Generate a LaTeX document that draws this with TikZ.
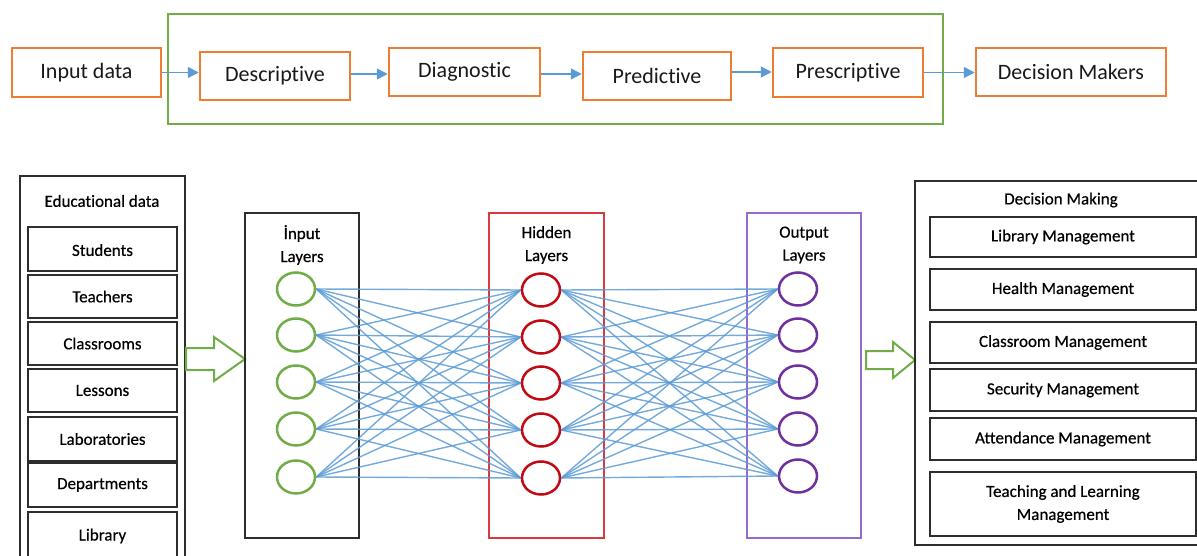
\documentclass[tikz,border=0pt]{standalone}
\usepackage{fontspec}
\setmainfont{Carlito}[Ligatures={NoCommon}]
\newfontfamily\lowfont{Carlito}[Ligatures={NoCommon},FakeBold=0.5]
\usetikzlibrary{arrows.meta,shapes.geometric}
\definecolor{orng}{RGB}{237,125,49}
\definecolor{grn}{RGB}{112,173,71}
\definecolor{lblue}{RGB}{91,155,213}
\definecolor{redbox}{RGB}{214,58,62}
\definecolor{redc}{RGB}{192,10,20}
\definecolor{purbox}{RGB}{150,105,205}
\definecolor{purc}{RGB}{112,48,160}
\definecolor{dk}{RGB}{45,45,45}
\begin{document}
\begin{tikzpicture}[x=1pt,y=-1pt,
  flowbox/.style={draw=orng, line width=2.5pt, inner sep=0pt, text=black!90, font=\fontsize{22}{26}\selectfont},
  flowarrow/.style={draw=lblue, line width=1.5pt, -{Triangle[length=11pt,width=11pt]}},
  groupbox/.style={draw=grn, line width=2pt, inner sep=0pt},
  cell/.style={draw=dk, line width=1.6pt, inner sep=0pt, font=\lowfont\fontsize{17}{23}\selectfont, align=center},
  lbl/.style={inner sep=0pt, font=\lowfont\fontsize{17}{23}\selectfont, align=center},
  layerbox/.style={line width=1.6pt, inner sep=0pt},
  neuron/.style={ellipse, line width=2.5pt, minimum width=38pt, minimum height=33pt, inner sep=0pt},
  conn/.style={draw=lblue, line width=1.4pt, opacity=0.85},
  hollow/.style={draw=grn, line width=2pt, fill=white, line join=miter}
]
\useasboundingbox (0,0) rectangle (1197,556);

% ---------- top flow ----------
\node[groupbox, minimum width=775pt, minimum height=110pt] (grp) at (555.5,69) {};
\node[flowbox, minimum width=149pt, minimum height=49pt] (in) at (86.5,72.5) {Input data};
\node[flowbox, minimum width=150pt, minimum height=48pt] (desc) at (275,76) {Descriptive};
\node[flowbox, minimum width=151pt, minimum height=48pt] (diag) at (464.5,72) {Diagnostic};
\node[flowbox, minimum width=148pt, minimum height=48pt] (pred) at (657,76) {Predictive};
\node[flowbox, minimum width=150pt, minimum height=49pt] (presc) at (848,72.5) {Prescriptive};
\node[flowbox, minimum width=190pt, minimum height=48pt] (dm) at (1071,72) {Decision Makers};

\draw[flowarrow] (in.east) -- (in.east -| desc.west);
\draw[flowarrow] (desc.east) ++(0,-2) coordinate (d1) -- (d1 -| diag.west);
\draw[flowarrow] (diag.east) ++(0,2) coordinate (d2) -- (d2 -| pred.west);
\draw[flowarrow] (pred.east) ++(0,-4) coordinate (d3) -- (d3 -| presc.west);
\draw[flowarrow] (presc.east) -- (presc.east -| dm.west);

% ---------- educational data ----------
\draw[dk, line width=1.6pt] (20,558) -- (20,176) -- (185,176) -- (185,558);
\node[lbl] (edt) at (102,201) {Educational data};
\node[cell, minimum width=149pt, minimum height=44pt, text depth=0pt] (c1) at (102.5,249) {\raisebox{-2pt}{Students}};
\node[cell, minimum width=149pt, minimum height=43pt] (c2) at (102.5,296.5) {\raisebox{-2pt}{Teachers}};
\node[cell, minimum width=149pt, minimum height=43pt] (c3) at (102.5,343.5) {\raisebox{-2pt}{Classrooms}};
\node[cell, minimum width=149pt, minimum height=43pt] (c4) at (102.5,390.5) {\raisebox{-2pt}{Lessons}};
\node[cell, minimum width=149pt, minimum height=44pt] (c5) at (102.5,439) {\raisebox{-2pt}{Laboratories}};
\node[cell, minimum width=149pt, minimum height=44pt] (c6) at (102.5,485) {\raisebox{-2pt}{Departments}};
\draw[dk, line width=1.6pt] (28,558) -- (28,512) -- (177,512) -- (177,558);
\node[lbl] (c7) at (102.5,536) {Library};

% hollow arrows
\draw[hollow] (186,348) -- (214,348) -- (214,337) -- (245,359) -- (214,381) -- (214,370) -- (186,370) -- cycle;
\draw[hollow] (866,351) -- (893,351) -- (893,342) -- (915,360) -- (893,378) -- (893,369) -- (866,369) -- cycle;

% ---------- layer boxes ----------
\node[layerbox, draw=dk, minimum width=114pt, minimum height=325pt] (lin) at (302,375.5) {};
\node[layerbox, draw=redbox, minimum width=115pt, minimum height=325pt] (lhid) at (546.5,375.5) {};
\node[layerbox, draw=purbox, minimum width=114pt, minimum height=325pt] (lout) at (804,375.5) {};
\node[lbl] (tin) at (302,245) {İnput\\Layers};
\node[lbl] (thid) at (546.5,245) {Hidden\\Layers};
\node[lbl] (tout) at (804,245) {Output\\Layers};

% neurons
\foreach \k/\y in {1/289,2/335,3/382,4/429,5/477}
  \node[neuron, draw=grn] (i\k) at (296,\y) {};
\foreach \k/\y in {1/290,2/337,3/383,4/430,5/478}
  \node[neuron, draw=redc] (h\k) at (541,\y) {};
\foreach \k/\y in {1/289,2/335,3/382,4/429,5/476}
  \node[neuron, draw=purc] (o\k) at (798,\y) {};

\foreach \a in {1,...,5}
  \foreach \b in {1,...,5} {
    \draw[conn] (i\a.east) -- (h\b.west);
    \draw[conn] (h\a.east) -- (o\b.west);
  }

% ---------- decision making ----------
\draw[dk, line width=1.6pt] (1200,181) -- (915,181) -- (915,545) -- (1200,545);
\node[lbl] (dmt) at (1061,200) {Decision Making};
\node[cell, minimum width=266pt, minimum height=40pt] (m1) at (1063,237) {\raisebox{-1pt}{Library Management}};
\node[cell, minimum width=266pt, minimum height=41pt] (m2) at (1063,289.5) {\raisebox{-1pt}{Health Management}};
\node[cell, minimum width=266pt, minimum height=41pt] (m3) at (1063,342.5) {\raisebox{-1pt}{Classroom Management}};
\node[cell, minimum width=266pt, minimum height=42pt] (m4) at (1063,390) {\raisebox{-1pt}{Security Management}};
\node[cell, minimum width=266pt, minimum height=42pt] (m5) at (1063,439) {\raisebox{-1pt}{Attendance Management}};
\node[cell, minimum width=266pt, minimum height=64pt] (m6) at (1063,504) {Teaching and Learning\\Management};
\end{tikzpicture}
\end{document}
